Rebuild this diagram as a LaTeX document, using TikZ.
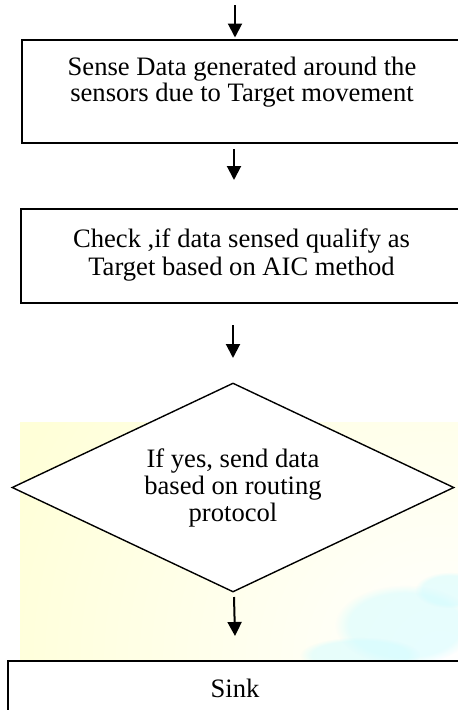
\documentclass[tikz,border=0pt]{standalone}
\usepackage{fontspec}
\setmainfont{Liberation Serif}
\usetikzlibrary{arrows.meta,shapes.geometric,fadings}
\definecolor{bgyellow}{RGB}{255,255,216}
\definecolor{bgcyan}{RGB}{208,252,255}
\tikzset{
  boxshape/.style={draw=black, line width=1.7pt, fill=white, rectangle, inner sep=0pt},
  decshape/.style={draw=black, line width=1.4pt, fill=white, diamond, inner sep=0pt},
  txt/.style={align=center, inner sep=0pt, font=\fontsize{26.6}{24}\selectfont},
  arr/.style={line width=2pt, -{Triangle[width=14pt,length=14pt]}},
  cyanpatch/.style={fill=bgcyan, fill opacity=0.5, path fading=circle with fuzzy edge 20 percent},
}
\begin{document}
\begin{tikzpicture}[x=1pt,y=-1pt]
\useasboundingbox (0,0) rectangle (458,710);
\clip (0,0) rectangle (458,710);
% background picture fragment
\begin{scope}
  \clip (20,422) rectangle (470,700);
  \fill[bgyellow] (20,422) rectangle (470,700);
  \shade[inner color=white, outer color=bgyellow] (440,660) circle (460);
  \path[cyanpatch] (405,625) ellipse (70 and 40);
  \path[cyanpatch] (360,655) ellipse (60 and 18);
  \path[cyanpatch] (450,590) ellipse (35 and 18);
\end{scope}
% boxes
\node[boxshape, minimum width=460, minimum height=103] (b1) at (252,91.5) {};
\node[txt] (t1) at (242,82.2) {Sense Data generated around the\\sensors due to Target movement};
\node[boxshape, minimum width=461, minimum height=94] (b2) at (251.5,256) {};
\node[txt, font=\fontsize{26.6}{28}\selectfont] (t2) at (241.5,255) {Check ,if data sensed qualify as\\Target based on AIC method};
\node[decshape, minimum width=442, minimum height=209] (d) at (233,487.5) {};
\node[txt, font=\fontsize{26.6}{26.7}\selectfont] (t3) at (233,488) {If yes, send data\\based on routing\\protocol};
\node[boxshape, minimum width=474, minimum height=100] (s) at (245,711) {};
\node[txt] (t4) at (235,688) {Sink};
% arrows
\coordinate (a0) at (235,5);
\coordinate (a1) at (235,37.5);
\coordinate (a2) at (234,149);
\coordinate (a3) at (234,180);
\coordinate (a4) at (233,325);
\coordinate (a5) at (233,358);
\coordinate (a6) at (234,597);
\coordinate (a7) at (235,636);
\draw[arr] (a0) -- (a1);
\draw[arr] (a2) -- (a3);
\draw[arr] (a4) -- (a5);
\draw[arr] (a6) -- (a7);
\end{tikzpicture}
\end{document}
